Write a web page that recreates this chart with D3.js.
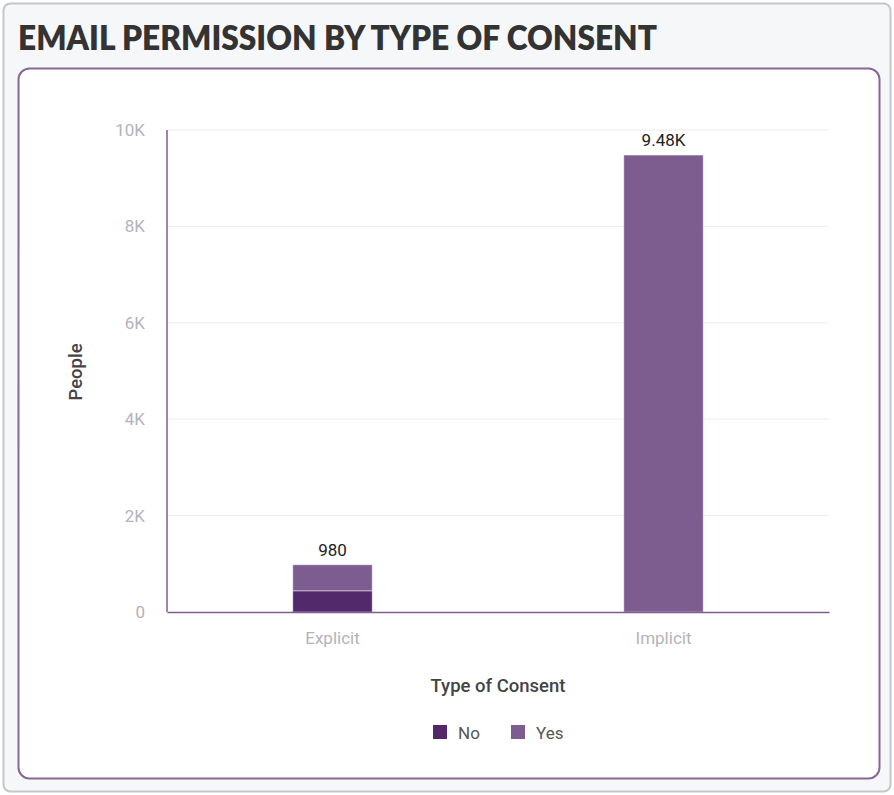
<!DOCTYPE html>
<html>
<head>
<meta charset="utf-8">
<script src="https://cdn.jsdelivr.net/npm/d3@7"></script>
<style>
  html, body { margin: 0; padding: 0; background: #ffffff; }
  svg { display: block; }
</style>
</head>
<body>
<svg id="chart" width="894" height="795"></svg>
<script>
// Email permission counts by type of consent, stacked by permission status
const categories = ["Explicit", "Implicit"];
const seriesNames = ["No", "Yes"];
const noValues = [440, 0];
const yesValues = [540, 9480];
const totalLabels = ["980", "9.48K"];
const yTicks = [0, 2000, 4000, 6000, 8000, 10000];
const yTickLabels = ["0", "2K", "4K", "6K", "8K", "10K"];
const colors = ["#52296b", "#7d5c90"];

const svg = d3.select("#chart");

// Outer card
svg.append("rect")
  .attr("x", 3.5).attr("y", 3.5).attr("width", 887).attr("height", 788)
  .attr("rx", 7).attr("fill", "#f6f7f9")
  .attr("stroke", "#c3c7cb").attr("stroke-width", 2);

// Title
svg.append("text")
  .attr("x", 18).attr("y", 50)
  .attr("font-family", "Lato, 'Open Sans', sans-serif")
  .attr("font-weight", 800)
  .attr("font-size", 34)
  .attr("fill", "#333333")
  .attr("textLength", 639)
  .attr("lengthAdjust", "spacingAndGlyphs")
  .text("EMAIL PERMISSION BY TYPE OF CONSENT");

// Inner panel
svg.append("rect")
  .attr("x", 18.5).attr("y", 68.5).attr("width", 861).attr("height", 710)
  .attr("rx", 11).attr("fill", "#ffffff")
  .attr("stroke", "#86679a").attr("stroke-width", 2);

const margin = { left: 167, right: 829, top: 130, bottom: 612 };

const x = d3.scaleBand()
  .domain(categories)
  .range([margin.left, margin.right])
  .paddingInner(0.76)
  .paddingOuter(0.38);

const y = d3.scaleLinear()
  .domain([0, 10000])
  .range([margin.bottom, margin.top]);

// Gridlines
svg.append("g")
  .selectAll("line")
  .data(yTicks.filter(d => d > 0))
  .join("line")
  .attr("x1", margin.left).attr("x2", margin.right)
  .attr("y1", d => y(d)).attr("y2", d => y(d))
  .attr("stroke", "#ededed").attr("stroke-width", 1);

// Y axis tick labels
const yAxis = d3.axisLeft(y)
  .tickValues(yTicks)
  .tickFormat((d, i) => yTickLabels[i])
  .tickSize(0)
  .tickPadding(22);
const yg = svg.append("g")
  .attr("transform", `translate(${margin.left},0)`)
  .call(yAxis);
yg.select(".domain").remove();
yg.selectAll("text")
  .attr("font-family", "Roboto, sans-serif")
  .attr("font-size", 17)
  .attr("fill", "#b3b3bb");

// Stacked data
const rows = categories.map((c, i) => ({ category: c, No: noValues[i], Yes: yesValues[i] }));
const stack = d3.stack().keys(seriesNames)(rows);

svg.append("g")
  .selectAll("g")
  .data(stack)
  .join("g")
  .attr("fill", (d, i) => colors[i])
  .selectAll("rect")
  .data(d => d.filter(p => p[1] - p[0] > 0))
  .join("rect")
  .attr("x", d => x(d.data.category))
  .attr("width", x.bandwidth())
  .attr("y", d => y(d[1]))
  .attr("height", d => y(d[0]) - y(d[1]))
  .attr("stroke", "rgba(255,255,255,0.45)")
  .attr("stroke-width", 1);

// Total labels
svg.append("g")
  .selectAll("text")
  .data(rows)
  .join("text")
  .attr("x", d => x(d.category) + x.bandwidth() / 2)
  .attr("y", d => y(d.No + d.Yes) - 9)
  .attr("text-anchor", "middle")
  .attr("font-family", "Roboto, sans-serif")
  .attr("font-size", 17)
  .attr("fill", "#222222")
  .text((d, i) => totalLabels[i]);

// Axis lines
svg.append("line")
  .attr("x1", margin.left).attr("x2", margin.left)
  .attr("y1", margin.top).attr("y2", margin.bottom)
  .attr("stroke", "#7d5c90").attr("stroke-width", 1.5);

const xAxis = d3.axisBottom(x).tickSize(0).tickPadding(20);
const xg = svg.append("g")
  .attr("transform", `translate(0,${margin.bottom})`)
  .call(xAxis);
xg.select(".domain")
  .attr("stroke", "#7d5c90").attr("stroke-width", 1.5);
xg.selectAll("text")
  .attr("font-family", "Roboto, sans-serif")
  .attr("font-size", 17)
  .attr("fill", "#b3b3bb");

// Axis titles
svg.append("text")
  .attr("transform", "translate(82,372) rotate(-90)")
  .attr("text-anchor", "middle")
  .attr("font-family", "Roboto, sans-serif")
  .attr("font-weight", 500)
  .attr("font-size", 18.5)
  .attr("fill", "#444444")
  .text("People");

svg.append("text")
  .attr("x", (margin.left + margin.right) / 2)
  .attr("y", 692)
  .attr("text-anchor", "middle")
  .attr("font-family", "Roboto, sans-serif")
  .attr("font-weight", 500)
  .attr("font-size", 18.5)
  .attr("fill", "#444444")
  .text("Type of Consent");

// Legend
const legendX = [433, 511];
const legend = svg.append("g")
  .selectAll("g")
  .data(seriesNames)
  .join("g")
  .attr("transform", (d, i) => `translate(${legendX[i]},725)`);
legend.append("rect")
  .attr("width", 14).attr("height", 14)
  .attr("fill", (d, i) => colors[i]);
legend.append("text")
  .attr("x", 25).attr("y", 13.5)
  .attr("font-family", "Roboto, sans-serif")
  .attr("font-size", 17)
  .attr("fill", "#555555")
  .text(d => d);
</script>
</body>
</html>
